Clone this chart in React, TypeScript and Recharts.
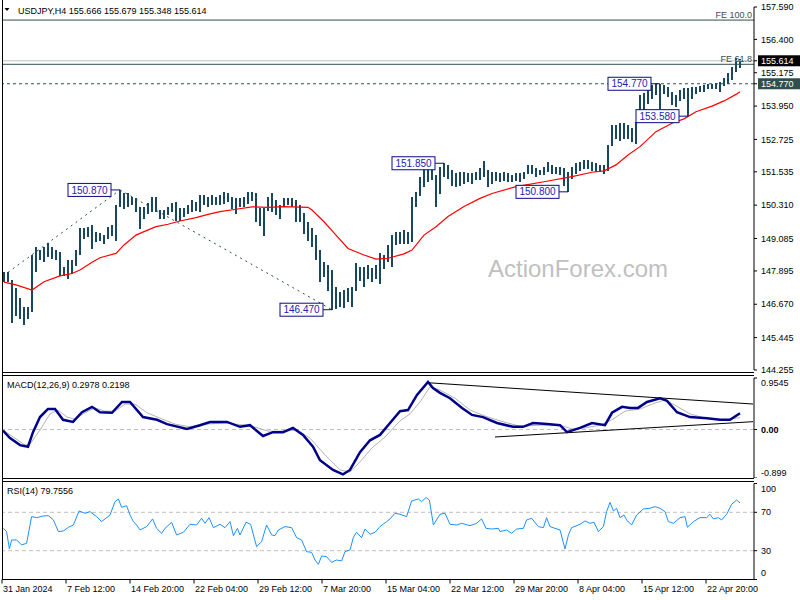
import React from 'react';
import {
  ComposedChart, Bar, Line, XAxis, YAxis, ReferenceLine, ReferenceDot,
} from 'recharts';

const FONT = '"Liberation Sans", Arial, sans-serif';
const BAR_COLOR = '#1a4760';
const SLATE = '#2f4f4f';
const NAVY = '#0a0a8a';

// USDJPY H4 bars, one entry per pair of bars
const HIGHS = [
  147.87, 147.87, 147.56, 147.25, 146.89, 146.58, 146.58, 148.48, 148.79, 148.66,
  148.79, 148.91, 148.79, 148.66, 148.60, 148.05, 148.30, 148.30, 148.66, 149.46,
  149.46, 149.52, 149.58, 149.34, 149.28, 149.21, 149.52, 149.58, 150.32, 150.87,
  150.74, 150.74, 150.62, 150.56, 150.25, 150.25, 150.38, 150.62, 150.62, 150.13,
  150.13, 150.25, 150.38, 150.44, 150.19, 150.19, 150.32, 150.50, 150.44, 150.68,
  150.68, 150.62, 150.68, 150.62, 150.68, 150.81, 150.74, 150.62, 150.56, 150.56,
  150.62, 150.81, 150.81, 150.75, 150.19, 150.19, 150.62, 150.75, 150.50, 150.32,
  150.56, 150.56, 150.56, 150.50, 150.32, 150.01, 149.70, 149.46, 149.21, 148.66,
  148.23, 148.11, 147.93, 147.32, 147.13, 147.19, 147.25, 147.32, 148.17, 148.05,
  148.05, 148.11, 147.99, 148.11, 148.54, 148.48, 148.85, 149.21, 149.34, 149.34,
  149.40, 149.34, 150.62, 150.81, 151.36, 151.66, 151.85, 151.85, 151.42, 151.73,
  151.85, 151.79, 151.60, 151.48, 151.54, 151.54, 151.48, 151.48, 151.54, 151.66,
  151.95, 151.60, 151.54, 151.54, 151.48, 151.54, 151.48, 151.42, 151.48, 151.48,
  151.54, 151.79, 151.79, 151.66, 151.60, 151.73, 151.91, 151.79, 151.73, 151.73,
  151.66, 151.54, 151.73, 151.85, 151.91, 151.97, 151.97, 151.91, 151.85, 151.79,
  151.79, 152.52, 153.26, 153.26, 153.32, 153.32, 153.26, 153.13, 153.38, 154.36,
  154.42, 154.54, 154.72, 154.75, 154.77, 154.72, 154.66, 154.48, 154.36, 154.54,
  154.62, 154.60, 154.66, 154.66, 154.70, 154.72, 154.75, 154.75, 154.79, 154.82,
  154.97, 155.15, 155.40, 155.70, 155.68,
];
const LOWS = [
  147.52, 147.50, 146.00, 146.27, 146.15, 145.91, 146.15, 146.40, 147.87, 148.30,
  148.23, 148.42, 148.36, 148.30, 147.74, 147.74, 147.62, 147.80, 148.11, 148.48,
  149.09, 149.15, 148.72, 148.97, 149.03, 148.91, 149.09, 149.21, 149.03, 150.25,
  150.19, 150.25, 150.32, 150.07, 149.46, 149.83, 150.01, 150.07, 150.07, 149.83,
  149.83, 149.95, 150.07, 149.76, 149.76, 149.89, 150.01, 150.07, 150.13, 150.07,
  150.32, 150.25, 150.32, 150.32, 150.32, 150.38, 150.44, 150.19, 150.01, 150.25,
  150.25, 150.38, 150.50, 149.70, 149.58, 149.21, 150.13, 150.07, 149.95, 149.83,
  150.26, 150.32, 150.26, 149.70, 149.70, 149.28, 149.03, 148.79, 148.30, 147.50,
  147.68, 147.19, 146.47, 146.52, 146.58, 146.55, 146.76, 146.58, 147.19, 147.56,
  147.32, 147.62, 147.50, 147.62, 147.44, 147.99, 148.23, 148.05, 148.85, 148.91,
  148.91, 148.91, 148.97, 150.26, 150.68, 150.99, 151.17, 151.24, 150.26, 150.75,
  151.36, 151.30, 151.05, 150.99, 151.05, 151.11, 151.17, 151.11, 151.24, 151.24,
  151.36, 150.99, 151.11, 151.23, 151.17, 151.23, 151.17, 151.17, 151.23, 151.17,
  151.30, 151.48, 151.48, 151.36, 151.42, 151.42, 151.54, 151.48, 151.48, 151.42,
  151.05, 150.80, 151.30, 151.48, 151.60, 151.66, 151.66, 151.60, 151.54, 151.54,
  151.48, 151.60, 152.52, 152.77, 152.70, 152.77, 152.77, 152.64, 152.58, 153.38,
  153.74, 154.05, 154.23, 154.36, 153.87, 154.42, 154.30, 153.99, 153.93, 154.17,
  154.23, 153.58, 154.23, 154.42, 154.48, 154.50, 154.58, 154.60, 154.60, 154.48,
  154.72, 154.79, 154.91, 155.21, 155.35,
];

// 55 SMA readings: [bar row, price]
const MA_POINTS: [number, number][] = [
  [0, 147.48], [3, 147.38], [7, 147.19], [10, 147.50], [14, 147.71], [17, 147.80],
  [19, 147.93], [22, 148.21], [24, 148.38], [28, 148.54], [30, 148.85], [33, 149.21],
  [35, 149.34], [38, 149.52], [41, 149.61], [44, 149.73], [48, 149.85], [51, 149.97],
  [54, 150.07], [58, 150.16], [62, 150.25], [66, 150.23], [70, 150.26], [76, 150.23],
  [77, 150.13], [80, 149.70], [83, 149.21], [86, 148.72], [90, 148.48], [93, 148.33],
  [96, 148.36], [100, 148.52], [102, 148.66], [105, 149.21], [108, 149.52], [111, 149.89],
  [115, 150.26], [119, 150.56], [122, 150.74], [128, 150.99], [135, 151.17], [142, 151.36],
  [147, 151.52], [150, 151.57], [153, 151.79], [156, 152.15], [159, 152.46], [163, 153.01],
  [167, 153.32], [170, 153.48], [173, 153.74], [177, 153.95], [180, 154.14], [183, 154.38],
  [184, 154.48],
];

// swing points: [bar row, price, label]
const PIVOTS: [number, number, string][] = [
  [29, 150.87, '150.870'],
  [82, 146.47, '146.470'],
  [110, 151.85, '151.850'],
  [141, 150.80, '150.800'],
  [164, 154.77, '154.770'],
  [171, 153.58, '153.580'],
];
// dotted projection legs: [row, price] pairs
const LEG_1: [number, number][] = [[1, 147.84], [29, 150.87]];
const LEG_2: [number, number][] = [[29, 150.87], [82, 146.47]];

const FE_100 = 157.11;
const FE_618 = 155.485;
const LAST_PRICE = 155.614;
const PIVOT_LEVEL = 154.77;

const PRICE_TICKS = [157.59, 156.4, 155.614, 155.175, 154.77, 153.95, 152.725, 151.535,
  150.31, 149.085, 147.895, 146.67, 145.445, 144.255];

// MACD(12,26,9): [bar position, value]
const MACD_MAIN: [number, number][] = [
  [0, -0.02], [3.5, -0.16], [8.5, -0.29], [12.5, -0.32], [15, -0.05], [18.5, 0.23],
  [22.5, 0.38], [26, 0.38], [30, 0.18], [35, 0.14], [39.5, 0.32], [44.5, 0.42],
  [48.5, 0.32], [54.5, 0.31], [59.5, 0.51], [63.5, 0.51], [70, 0.23], [77, 0.18],
  [82, 0.10], [92, 0.01], [98.5, 0.08], [103.5, 0.14], [112, 0.14], [118.5, 0.05],
  [123.5, 0.08], [130, -0.12], [135, -0.05], [140, -0.05], [145, 0.03], [150, -0.10],
  [155, -0.32], [158.5, -0.57], [165, -0.75], [170, -0.83], [173.5, -0.75], [178.5, -0.42],
  [183.5, -0.20], [188.5, -0.10], [193.5, 0.12], [198.5, 0.34], [202.5, 0.36], [207, 0.64],
  [212.5, 0.88], [215, 0.77], [218.5, 0.68], [223.5, 0.58], [229.5, 0.40], [234.5, 0.27],
  [240, 0.23], [247, 0.12], [255, 0.05], [260, 0.05], [265, 0.12], [272, 0.10],
  [278.5, 0.08], [282, -0.05], [288.5, 0.03], [294.5, 0.12], [301, 0.08], [304.5, 0.31],
  [309.5, 0.42], [313.5, 0.40], [317.5, 0.40], [322, 0.51], [328.5, 0.58], [332, 0.53],
  [337, 0.32], [343.5, 0.23], [352, 0.21], [358.5, 0.18], [363.5, 0.18], [368.5, 0.30],
];
const MACD_SIGNAL: [number, number][] = [
  [0, -0.01], [6, -0.16], [11, -0.29], [13.5, -0.27], [18.5, -0.01], [23.5, 0.29],
  [27.5, 0.36], [32, 0.23], [36, 0.19], [41, 0.31], [46, 0.40], [51, 0.34],
  [56, 0.34], [61, 0.47], [66, 0.47], [72, 0.31], [78.5, 0.21], [86, 0.10],
  [93.5, 0.05], [101, 0.10], [111, 0.12], [121, 0.08], [127.5, 0.03], [132.5, -0.03],
  [141, -0.03], [147, -0.01], [153.5, -0.16], [161, -0.47], [168.5, -0.75], [173.5, -0.79],
  [178.5, -0.60], [184.5, -0.34], [191, -0.14], [198.5, 0.16], [203.5, 0.29], [208.5, 0.51],
  [213.5, 0.79], [218.5, 0.73], [226, 0.58], [233.5, 0.36], [241, 0.25], [248.5, 0.16],
  [258.5, 0.06], [268.5, 0.08], [278.5, 0.08], [284.5, 0.01], [291, 0.03], [298.5, 0.08],
  [304.5, 0.18], [311, 0.34], [318.5, 0.38], [326, 0.49], [331, 0.55], [336, 0.45],
  [343.5, 0.29], [351, 0.21], [361, 0.18], [368.5, 0.22],
];
// trend lines drawn on the MACD window
const MACD_TRENDS: [number, number][][] = [
  [[212.5, 0.867], [375, 0.472]],
  [[246, -0.139], [375, 0.145]],
];

// RSI(14): [bar position, value]
const RSI_POINTS: [number, number][] = [
  [0.2, 53.3], [1.8, 49.9], [3.2, 31.8], [4.3, 41.2], [6.8, 41.2], [9.3, 36.0], [11.8, 37.7],
  [14.3, 65.5], [16.8, 64.4], [20.2, 66.2], [22.7, 66.5], [25.2, 62.0], [27.7, 49.9],
  [30.2, 50.6], [32.7, 54.4], [35.2, 56.8], [38, 71.4], [41, 69.0], [43.5, 70.7],
  [46.8, 65.5], [49.3, 60.3], [53.5, 67.2], [56, 81.1], [57.7, 83.9], [59.3, 75.2],
  [61.8, 76.9], [63.5, 67.2], [65.2, 60.3], [66.8, 56.8], [68.5, 51.6], [71.8, 55.1],
  [74.8, 63.1], [76.8, 53.3], [79.3, 48.1], [81, 53.3], [84.3, 59.6], [86.8, 46.4],
  [90.2, 49.2], [93.5, 57.5], [96.8, 56.8], [99.3, 63.8], [101, 58.5], [103, 64.4],
  [105.2, 54.0], [108.5, 57.5], [111, 54.0], [113.5, 60.3], [115.2, 45.7], [117.2, 53.3],
  [118.5, 46.4], [121.5, 59.6], [123.8, 57.5], [126.8, 34.2], [129.3, 39.4], [131.8, 56.8],
  [134.3, 46.4], [136, 45.7], [137.7, 51.6], [141, 55.1], [144.3, 54.0], [146.8, 43.6],
  [149.3, 41.2], [151.8, 29.0], [154.3, 28.3], [156, 20.3], [157.7, 15.8], [159.3, 24.5],
  [161.8, 23.8], [164.3, 17.9], [166.8, 20.3], [169.3, 19.3], [171, 29.0], [173.5, 30.8],
  [175.2, 44.0], [176.8, 49.2], [179.3, 43.6], [181, 52.6], [183.5, 47.1], [186, 49.2],
  [188.5, 55.1], [191.8, 60.3], [193.5, 63.1], [196, 69.0], [198.5, 68.0], [201.8, 65.5],
  [204.3, 81.8], [207.7, 83.9], [209.3, 81.1], [211.5, 85.3], [213.2, 82.8], [215.2, 56.8],
  [218.5, 67.9], [221, 69.0], [223.5, 57.5], [226.8, 56.8], [229.3, 58.5], [233.5, 56.1],
  [236.8, 58.5], [239.3, 63.1], [241.5, 53.3], [244.3, 52.6], [247.7, 53.3], [248.5, 49.9],
  [251.8, 51.6], [254.3, 48.1], [256.8, 52.6], [260.2, 53.3], [261.8, 62.0], [264.3, 63.8],
  [267.7, 55.1], [270.2, 54.0], [271.8, 64.4], [273.5, 55.1], [276, 53.3], [278.5, 51.6],
  [281, 31.8], [282.7, 46.4], [284.3, 54.0], [288.5, 57.5], [291, 61.0], [293.5, 58.5],
  [295.5, 59.6], [297.7, 49.9], [300.2, 55.1], [301.8, 70.7], [303.5, 80.4], [305.2, 71.4],
  [306.8, 74.2], [308.5, 64.4], [310.5, 67.2], [311.8, 62.0], [314.3, 56.8], [316.8, 67.2],
  [320.2, 73.5], [323.5, 74.2], [326, 75.9], [328.5, 74.2], [331, 70.7], [332.7, 60.3],
  [335.2, 58.5], [338.5, 64.4], [341, 65.5], [342.2, 54.4], [345.2, 60.3], [348.5, 64.4],
  [351.8, 64.4], [353.5, 67.9], [355.2, 63.1], [357.7, 64.4], [359.3, 62.0], [361.8, 67.9],
  [364.3, 78.3], [366.8, 82.8], [368.5, 79.8],
];

const DATE_TICK_POS = [-0.5, 31.5, 63.5, 95.5, 127.5, 159.5, 191.5, 223.5, 255.5, 287.5, 319.5, 351.5];
const DATE_LABELS = ['31 Jan 2024', '7 Feb 12:00', '14 Feb 20:00', '22 Feb 04:00', '29 Feb 12:00',
  '7 Mar 20:00', '15 Mar 04:00', '22 Mar 12:00', '29 Mar 20:00', '8 Apr 04:00', '15 Apr 12:00',
  '22 Apr 20:00'];

const X_DOMAIN: [number, number] = [-0.5, 375.5];
const ROWS = 188;

const priceRows: any[] = Array.from({ length: ROWS }, (_, i) => ({
  i,
  hl: i < HIGHS.length ? [LOWS[i], HIGHS[i]] : null,
  ma: null,
  leg1: null,
  leg2: null,
}));
MA_POINTS.forEach(([k, v]) => { priceRows[k].ma = v; });
LEG_1.forEach(([k, v]) => { priceRows[k].leg1 = v; });
LEG_2.forEach(([k, v]) => { priceRows[k].leg2 = v; });

const toXY = (pts: [number, number][]) => pts.map(([u, v]) => ({ u, v }));
const macdData = toXY(MACD_MAIN);
const signalData = toXY(MACD_SIGNAL);
const rsiData = toXY(RSI_POINTS);

const textStyle = { fontFamily: FONT, fontSize: 9 };

function HLBar(props: any) {
  const { x, y, width, height, payload } = props;
  if (!payload || !payload.hl || !isFinite(y) || !isFinite(height)) return null;
  const cx = Math.round(x + width / 2);
  const top = Math.min(y, y + height);
  const bottom = Math.max(y, y + height);
  return <line x1={cx} x2={cx} y1={top} y2={bottom + 0.5} stroke={BAR_COLOR} strokeWidth={2} shapeRendering="crispEdges" />;
}

function PivotLabel({ cx, cy, text }: any) {
  if (!isFinite(cx) || !isFinite(cy)) return null;
  const right = cx - 9;
  return (
    <g>
      <line x1={right} x2={cx} y1={cy} y2={cy} stroke={NAVY} strokeWidth={1} />
      <rect x={right - 43} y={cy - 6.5} width={43} height={13} fill="#fff" stroke={NAVY} strokeWidth={1} />
      <text x={right - 21.5} y={cy} dy="0.36em" textAnchor="middle" fill="#2323b0"
        style={{ fontFamily: FONT, fontSize: 10 }}>{text}</text>
    </g>
  );
}

function PriceTick({ x, y, payload }: any) {
  const v = payload.value;
  const txt = v.toFixed(3);
  if (v === LAST_PRICE || v === PIVOT_LEVEL) {
    return (
      <g>
        <rect x={x - 3} y={y - 5.5} width={42} height={11} fill={v === LAST_PRICE ? '#000' : SLATE} />
        <text x={x} y={y} dy="0.35em" textAnchor="start" fill="#fff" style={textStyle}>{txt}</text>
      </g>
    );
  }
  return <text x={x} y={y} dy="0.35em" textAnchor="start" fill="#000" style={textStyle}>{txt}</text>;
}

function MacdTick({ x, y, payload }: any) {
  const v = payload.value;
  const shift = v > 0 ? 4.5 : v < 0 ? -5 : 0;
  const txt = v > 0 ? v.toFixed(4) : v < 0 ? v.toFixed(3) : '0.00';
  return <text x={x} y={y + shift} dy="0.35em" fill="#000" style={{ ...textStyle, fontWeight: v === 0 ? 600 : 400 }}>{txt}</text>;
}

function RsiTick({ x, y, payload }: any) {
  const v = payload.value;
  const shift = v === 100 ? 5.5 : v === 0 ? -6.5 : 0;
  return <text x={x} y={y + shift} dy="0.35em" fill="#000" style={textStyle}>{v}</text>;
}

function DateTick({ x, y, payload }: any) {
  const idx = DATE_TICK_POS.indexOf(payload.value);
  return <text x={x + 1} y={y} dy="0.71em" textAnchor="start" fill="#000" style={textStyle}>{DATE_LABELS[idx]}</text>;
}

const axisStroke = { stroke: '#000' };

export default function App() {
  return (
    <div style={{ position: 'fixed', left: 0, top: 0, width: 800, height: 600, background: '#fff', overflow: 'hidden' }}>
      <div style={{ position: 'absolute', left: 0, top: 0 }}>
        <ComposedChart width={800} height={375} data={priceRows} margin={{ top: 7, right: 0, bottom: 5, left: 2 }}>
          <XAxis dataKey="i" hide />
          <YAxis orientation="right" type="number" domain={[144.255, 157.59]} allowDataOverflow
            ticks={PRICE_TICKS} interval={0} width={46} tickSize={3} tickMargin={4}
            axisLine={axisStroke} tickLine={axisStroke} tick={<PriceTick />} />
          <ReferenceLine y={FE_100} stroke={SLATE} strokeWidth={1}
            label={{ value: 'FE 100.0', position: 'insideBottomRight', offset: 2, fill: '#3c4f4f', fontSize: 9, fontFamily: FONT }} />
          <ReferenceLine y={LAST_PRICE} stroke="#c0c0c0" strokeWidth={1} />
          <ReferenceLine y={FE_618} stroke={SLATE} strokeWidth={1}
            label={{ value: 'FE 61.8', position: 'insideBottomRight', offset: 2, fill: '#3c4f4f', fontSize: 9, fontFamily: FONT }} />
          <ReferenceLine y={PIVOT_LEVEL} stroke={SLATE} strokeWidth={1} strokeDasharray="3 3" />
          <Line dataKey="leg1" connectNulls dot={false} stroke={SLATE} strokeWidth={1} strokeDasharray="2 4" isAnimationActive={false} />
          <Line dataKey="leg2" connectNulls dot={false} stroke={SLATE} strokeWidth={1} strokeDasharray="2 4" isAnimationActive={false} />
          <Bar dataKey="hl" shape={(p: any) => <HLBar {...p} />} isAnimationActive={false} />
          <Line dataKey="ma" connectNulls dot={false} stroke="#ff0000" strokeWidth={1.2} isAnimationActive={false} />
          {PIVOTS.map(([k, v, t]) => (
            <ReferenceDot key={t} x={k} y={v} r={0} shape={(p: any) => <PivotLabel {...p} text={t} />} />
          ))}
        </ComposedChart>
      </div>

      <div style={{ position: 'absolute', left: 0, top: 376 }}>
        <ComposedChart width={800} height={102} margin={{ top: 2, right: 0, bottom: 0, left: 2 }}>
          <XAxis type="number" dataKey="u" domain={X_DOMAIN} allowDataOverflow hide />
          <YAxis orientation="right" type="number" domain={[-0.899, 0.9545]} allowDataOverflow
            ticks={[0.9545, 0, -0.899]} interval={0} width={46} tickSize={3} tickMargin={4}
            axisLine={axisStroke} tickLine={axisStroke} tick={<MacdTick />} />
          <ReferenceLine y={0} stroke="#c0c0c0" strokeDasharray="4 3" />
          {MACD_TRENDS.map((seg, j) => (
            <ReferenceLine key={j} segment={seg.map(([u, v]) => ({ x: u, y: v }))} stroke="#000" strokeWidth={1} />
          ))}
          <Line data={signalData} dataKey="v" dot={false} stroke="#b4b4b4" strokeWidth={1} isAnimationActive={false} />
          <Line data={macdData} dataKey="v" dot={false} stroke="#00008b" strokeWidth={2.5} isAnimationActive={false} />
        </ComposedChart>
      </div>

      <div style={{ position: 'absolute', left: 0, top: 481 }}>
        <ComposedChart width={800} height={119} margin={{ top: 2.5, right: 0, bottom: 0, left: 2 }}>
          <XAxis type="number" dataKey="u" domain={X_DOMAIN} allowDataOverflow ticks={DATE_TICK_POS} interval={0}
            height={20.5} tickSize={4} tickMargin={2} axisLine={axisStroke} tickLine={axisStroke} tick={<DateTick />} />
          <YAxis orientation="right" type="number" domain={[0, 100]} allowDataOverflow
            ticks={[100, 70, 30, 0]} interval={0} width={46} tickSize={3} tickMargin={4}
            axisLine={axisStroke} tickLine={axisStroke} tick={<RsiTick />} />
          <ReferenceLine y={70} stroke="#c0c0c0" strokeDasharray="4 3" />
          <ReferenceLine y={30} stroke="#c0c0c0" strokeDasharray="4 3" />
          <Line data={rsiData} dataKey="v" dot={false} stroke="#1e90ff" strokeWidth={1} isAnimationActive={false} />
        </ComposedChart>
      </div>

      <svg width={800} height={600} style={{ position: 'absolute', left: 0, top: 0, pointerEvents: 'none' }}>
        <g stroke="#000" strokeWidth={1} shapeRendering="crispEdges">
          <line x1={2.5} x2={2.5} y1={0} y2={580} />
          <line x1={2} x2={754} y1={372.5} y2={372.5} />
          <line x1={2} x2={754} y1={375.5} y2={375.5} />
          <line x1={2} x2={754} y1={478.5} y2={478.5} />
          <line x1={2} x2={754} y1={481.5} y2={481.5} />
        </g>
        <polygon points="4.5,8 9.5,8 7,11" fill="#000" />
        <text x={18} y={14} fill="#000" style={textStyle}>USDJPY,H4  155.666 155.679 155.348 155.614</text>
        <text x={7} y={387.5} fill="#000" style={textStyle}>MACD(12,26,9) 0.2978 0.2198</text>
        <text x={7} y={494} fill="#000" style={textStyle}>RSI(14) 79.7556</text>
        <text x={488} y={277} fill="#c0c0c0" style={{ fontFamily: FONT, fontSize: 24 }}>ActionForex.com</text>
      </svg>
    </div>
  );
}
